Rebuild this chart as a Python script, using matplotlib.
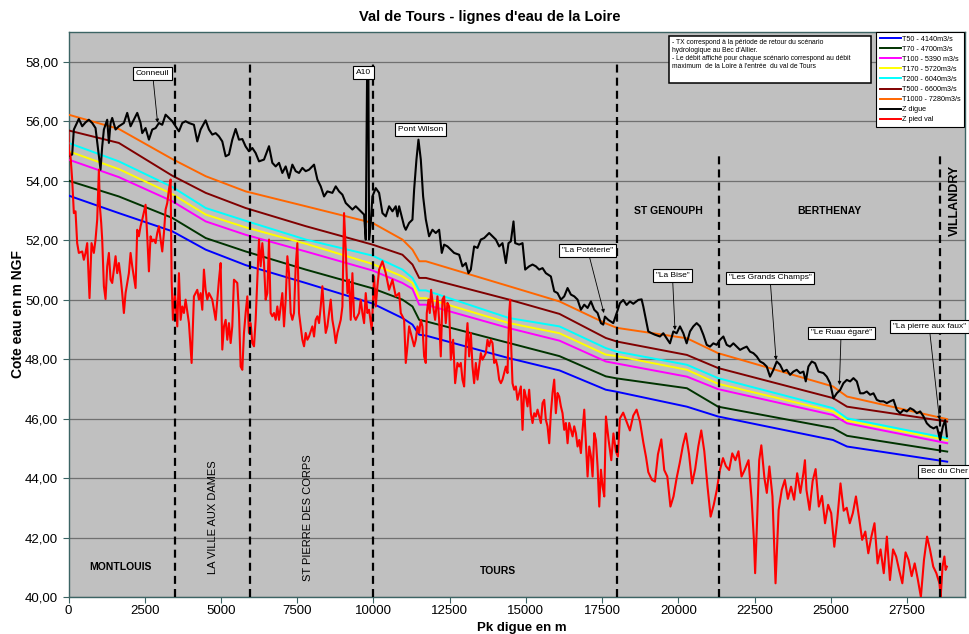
import numpy as np
import matplotlib
matplotlib.use("Agg")
import matplotlib.pyplot as plt
from matplotlib.patches import Rectangle
from matplotlib.lines import Line2D
from matplotlib.ticker import FuncFormatter

plt.rcParams['font.family'] = ['Liberation Sans', 'DejaVu Sans']

# points kilometriques des lignes d'eau (m)
pk = [0, 1650, 3400, 4500, 5810, 7780, 9970, 10950, 11280, 11500, 11720,
      14450, 16100, 17620, 17985, 20280, 21300, 25070, 25530, 28815]

t50 = [53.50, 52.91, 52.30, 51.68, 51.16, 50.56, 49.87, 49.38, 49.16, 48.82, 48.79,
       48.03, 47.62, 46.97, 46.90, 46.40, 46.07, 45.28, 45.06, 44.55]
t70 = [54.00, 53.47, 52.75, 52.07, 51.62, 51.01, 50.38, 50.00, 49.77, 49.32, 49.27,
       48.54, 48.10, 47.42, 47.35, 47.02, 46.40, 45.68, 45.42, 44.89]
t100 = [54.71, 54.12, 53.31, 52.63, 52.18, 51.62, 50.98, 50.56, 50.36, 49.83, 49.83,
        49.04, 48.62, 47.92, 47.85, 47.41, 46.99, 46.12, 45.84, 45.17]
t170 = [54.99, 54.39, 53.55, 52.86, 52.43, 51.88, 51.20, 50.78, 50.56, 50.05, 50.05,
        49.21, 48.87, 48.15, 48.10, 47.64, 47.17, 46.24, 45.93, 45.28]
t200 = [55.27, 54.65, 53.79, 53.08, 52.65, 52.02, 51.48, 51.01, 50.73, 50.31, 50.31,
        49.38, 49.10, 48.37, 48.25, 47.81, 47.36, 46.35, 46.01, 45.34]
t500 = [55.69, 55.27, 54.17, 53.59, 53.08, 52.47, 51.85, 51.51, 51.18, 50.73, 50.73,
        50.00, 49.52, 48.71, 48.59, 48.14, 47.70, 46.69, 46.40, 45.90]
t1000 = [56.22, 55.74, 54.73, 54.15, 53.64, 53.14, 52.58, 52.02, 51.68, 51.29, 51.29,
         50.45, 49.94, 49.20, 49.05, 48.70, 48.20, 47.08, 46.74, 45.98]

# Z digue : (pk, cote)
z_digue = [
    (0, 54.82), (120, 54.88), (175, 55.72), (339, 56.08), (449, 55.83), (558, 55.96), (667, 56.05),
    (777, 55.94), (886, 55.77), (996, 54.82), (1050, 54.37), (1105, 55.15), (1160, 55.72), (1269, 56.05),
    (1324, 55.27), (1379, 55.94), (1433, 56.11), (1543, 55.72), (1652, 55.83), (1816, 55.94), (1925, 56.28),
    (2035, 55.83), (2144, 56.05), (2254, 56.28), (2363, 55.94), (2418, 55.60), (2527, 55.77), (2637, 55.38),
    (2746, 55.72), (2856, 55.77), (2965, 55.94), (3074, 55.88), (3184, 56.22), (3293, 56.11), (3403, 56.00),
    (3512, 55.83), (3621, 55.66), (3731, 55.94), (3840, 56.00), (3949, 55.94), (4113, 55.88), (4223, 55.32),
    (4332, 55.72), (4496, 56.03), (4606, 55.72), (4715, 55.55), (4825, 55.60), (4934, 55.49), (5043, 55.32),
    (5153, 54.82), (5262, 54.88), (5371, 55.38), (5481, 55.74), (5590, 55.38), (5700, 55.40), (5809, 55.15),
    (5918, 54.99), (6028, 55.10), (6137, 54.93), (6247, 54.65), (6411, 54.71), (6575, 55.16), (6684, 54.60),
    (6794, 54.48), (6903, 54.60), (7012, 54.26), (7122, 54.48), (7231, 54.09), (7341, 54.54), (7450, 54.32),
    (7559, 54.26), (7669, 54.43), (7778, 54.32), (7888, 54.37), (8052, 54.54), (8161, 54.04), (8271, 53.81),
    (8380, 53.47), (8489, 53.64), (8653, 53.59), (8763, 53.81), (8872, 53.64), (8982, 53.53), (9091, 53.25),
    (9200, 53.14), (9310, 53.03), (9419, 53.14), (9583, 52.97), (9693, 52.86), (9747, 52.02), (9790, 57.40),
    (9835, 57.40), (9857, 52.02), (9912, 52.58), (9966, 53.47), (10076, 53.75), (10185, 53.59), (10295, 52.91),
    (10404, 52.80), (10513, 53.14), (10623, 52.97), (10732, 53.14), (10787, 52.80), (10842, 53.14),
    (10951, 52.69), (11006, 52.47), (11060, 52.35), (11170, 52.58), (11279, 52.69), (11334, 53.70),
    (11410, 54.71), (11476, 55.38), (11553, 54.71), (11629, 53.47), (11717, 52.70), (11825, 52.13),
    (11935, 52.35), (12044, 52.24), (12154, 52.35), (12241, 51.57), (12318, 51.85), (12427, 51.79),
    (12537, 51.68), (12646, 51.57), (12810, 51.51), (12919, 51.12), (13029, 51.23), (13116, 50.89),
    (13193, 51.01), (13302, 51.79), (13412, 51.74), (13521, 52.02), (13631, 52.07), (13795, 52.24),
    (13904, 52.13), (14013, 52.02), (14123, 51.79), (14232, 51.90), (14342, 51.23), (14429, 51.90),
    (14506, 51.96), (14593, 52.63), (14648, 51.90), (14779, 51.85), (14889, 51.90), (14976, 51.01),
    (15107, 51.12), (15217, 51.18), (15326, 51.12), (15436, 51.01), (15545, 51.06), (15654, 50.89),
    (15818, 50.78), (15928, 50.28), (16037, 50.22), (16147, 50.00), (16256, 50.11), (16366, 50.39),
    (16475, 50.17), (16585, 50.11), (16694, 50.00), (16803, 49.66), (16913, 49.83), (17022, 49.72),
    (17132, 49.94), (17241, 49.66), (17350, 49.55), (17460, 49.21), (17536, 49.16), (17591, 49.43),
    (17700, 49.32), (17864, 49.21), (17974, 49.54), (18083, 49.88), (18193, 49.99), (18302, 49.82),
    (18411, 49.94), (18521, 49.86), (18685, 49.99), (18794, 50.01), (18849, 49.77), (18937, 49.32),
    (19013, 48.93), (19123, 48.87), (19232, 48.82), (19396, 48.76), (19505, 48.87), (19615, 48.70),
    (19724, 48.53), (19834, 48.93), (19943, 48.87), (20052, 49.10), (20162, 48.87), (20271, 48.53),
    (20381, 48.93), (20490, 49.10), (20599, 49.21), (20709, 49.10), (20818, 48.82), (20928, 48.48),
    (21037, 48.42), (21146, 48.53), (21256, 48.48), (21365, 48.65), (21475, 48.76), (21584, 48.48),
    (21693, 48.42), (21803, 48.53), (21912, 48.42), (22022, 48.31), (22131, 48.37), (22240, 48.42),
    (22350, 48.25), (22459, 48.20), (22569, 48.09), (22678, 47.92), (22787, 47.86), (22897, 47.75),
    (23006, 47.41), (23116, 47.64), (23225, 47.92), (23334, 47.81), (23444, 47.58), (23553, 47.64),
    (23663, 47.47), (23772, 47.58), (23881, 47.64), (23991, 47.53), (24100, 47.58), (24177, 47.25),
    (24264, 47.75), (24374, 47.92), (24483, 47.86), (24593, 47.58), (24757, 47.53), (24866, 47.41),
    (24975, 47.19), (25085, 46.68), (25194, 46.85), (25304, 46.96), (25413, 47.19), (25522, 47.30),
    (25632, 47.25), (25741, 47.36), (25851, 47.25), (25960, 46.85), (26069, 46.85), (26179, 46.91),
    (26288, 46.80), (26398, 46.85), (26507, 46.63), (26616, 46.58), (26726, 46.58), (26835, 46.52),
    (26945, 46.58), (27054, 46.63), (27163, 46.29), (27273, 46.18), (27382, 46.29), (27492, 46.24),
    (27601, 46.35), (27710, 46.29), (27820, 46.18), (27929, 46.24), (28039, 46.07), (28148, 45.84),
    (28257, 45.73), (28367, 45.67), (28476, 45.73), (28586, 45.28), (28673, 45.73), (28750, 45.95),
    (28805, 45.40),
]

# Z pied val : (pk, cote)
z_pied = [
    (0, 55.61), (11, 55.04), (66, 54.82), (120, 54.04), (175, 52.91), (230, 52.97), (284, 51.90),
    (339, 51.57), (449, 51.62), (503, 51.34), (558, 51.57), (613, 51.90), (689, 50.05), (755, 51.90),
    (831, 51.57), (886, 52.02), (941, 52.69), (996, 54.37), (1028, 53.14), (1072, 52.58), (1105, 52.02),
    (1160, 50.45), (1214, 50.02), (1269, 51.12), (1324, 51.57), (1379, 50.67), (1433, 50.56), (1543, 51.46),
    (1597, 50.89), (1652, 51.23), (1707, 50.78), (1761, 50.22), (1816, 49.55), (1871, 50.22), (1980, 50.89),
    (2035, 51.57), (2090, 51.12), (2199, 50.39), (2254, 52.35), (2308, 52.13), (2363, 52.47), (2418, 52.69),
    (2527, 53.19), (2582, 52.13), (2637, 50.95), (2691, 52.13), (2746, 51.96), (2801, 52.02), (2856, 51.90),
    (2910, 52.24), (2965, 52.47), (3020, 52.02), (3074, 51.62), (3129, 52.24), (3184, 53.03), (3238, 53.25),
    (3293, 53.70), (3348, 54.04), (3381, 50.67), (3424, 49.32), (3490, 50.22), (3567, 49.10), (3621, 50.89),
    (3676, 49.32), (3731, 49.77), (3785, 49.55), (3840, 50.00), (3949, 49.21), (4037, 47.87), (4113, 50.11),
    (4223, 50.33), (4277, 50.00), (4332, 50.22), (4387, 49.66), (4441, 51.01), (4496, 50.33), (4551, 50.00),
    (4606, 50.22), (4715, 50.00), (4825, 49.32), (4934, 50.67), (4989, 51.23), (5043, 48.32), (5098, 49.10),
    (5153, 49.32), (5207, 48.65), (5262, 49.21), (5317, 48.54), (5371, 49.10), (5426, 50.67), (5535, 50.56),
    (5590, 49.55), (5645, 47.75), (5700, 47.64), (5754, 48.88), (5809, 49.55), (5864, 50.11), (5918, 48.88),
    (5973, 49.21), (6028, 48.54), (6083, 48.43), (6137, 49.32), (6192, 50.67), (6247, 52.02), (6301, 51.12),
    (6356, 51.90), (6411, 51.23), (6465, 50.00), (6520, 50.22), (6575, 52.02), (6630, 49.55), (6684, 49.44),
    (6739, 49.55), (6794, 49.32), (6848, 49.77), (6903, 49.32), (7012, 50.22), (7067, 49.10), (7122, 50.00),
    (7177, 51.46), (7231, 50.89), (7286, 49.55), (7341, 49.32), (7395, 49.55), (7450, 51.12), (7505, 51.90),
    (7559, 49.55), (7614, 49.10), (7669, 48.65), (7724, 48.43), (7778, 48.88), (7833, 48.65), (7888, 48.76),
    (7997, 49.10), (8052, 48.76), (8106, 49.32), (8161, 49.44), (8216, 49.21), (8271, 49.77), (8325, 50.45),
    (8380, 49.55), (8435, 48.88), (8489, 49.10), (8544, 49.55), (8599, 50.00), (8653, 49.32), (8708, 48.99),
    (8763, 48.54), (8818, 48.88), (8872, 49.10), (8927, 49.32), (8982, 49.77), (9036, 52.91), (9091, 51.68),
    (9146, 50.22), (9200, 50.67), (9255, 49.32), (9310, 50.89), (9365, 49.44), (9419, 49.32), (9528, 49.55),
    (9583, 50.00), (9638, 49.55), (9693, 49.21), (9747, 50.22), (9802, 49.55), (9857, 49.66), (9944, 48.99),
    (10021, 50.78), (10076, 49.77), (10130, 50.45), (10185, 51.01), (10295, 51.29), (10404, 50.89),
    (10513, 50.33), (10623, 50.67), (10732, 50.11), (10842, 50.22), (10896, 49.55), (10951, 49.44),
    (11006, 49.32), (11060, 47.87), (11115, 48.43), (11170, 49.10), (11224, 48.88), (11334, 48.43),
    (11389, 48.65), (11443, 49.10), (11498, 48.88), (11553, 49.32), (11607, 49.10), (11662, 48.09),
    (11716, 47.87), (11749, 49.55), (11804, 50.00), (11847, 49.55), (11891, 50.33), (11957, 49.77),
    (12022, 49.32), (12099, 50.11), (12154, 49.32), (12208, 48.09), (12263, 50.00), (12318, 50.11),
    (12372, 49.21), (12427, 49.89), (12482, 49.77), (12537, 47.98), (12613, 48.65), (12679, 47.19),
    (12755, 47.87), (12810, 47.75), (12865, 47.87), (12919, 47.31), (12974, 47.08), (13029, 48.43),
    (13084, 49.21), (13138, 48.09), (13193, 48.88), (13248, 47.75), (13302, 47.19), (13357, 47.87),
    (13412, 47.31), (13466, 47.75), (13521, 48.20), (13576, 47.98), (13631, 48.09), (13685, 48.20),
    (13740, 48.65), (13795, 48.43), (13849, 48.65), (13904, 48.54), (13959, 47.87), (14013, 47.98),
    (14068, 47.75), (14123, 47.31), (14178, 47.19), (14232, 47.31), (14287, 47.53), (14342, 47.75),
    (14396, 47.53), (14451, 49.55), (14484, 50.00), (14517, 48.43), (14560, 47.19), (14615, 46.97),
    (14670, 47.08), (14724, 46.63), (14779, 46.86), (14834, 47.08), (14889, 45.62), (14943, 46.97),
    (14998, 46.74), (15053, 46.41), (15107, 46.97), (15162, 46.18), (15217, 45.85), (15272, 46.18),
    (15326, 46.07), (15381, 46.30), (15436, 46.07), (15490, 45.85), (15545, 46.52), (15600, 46.63),
    (15654, 45.96), (15709, 45.74), (15764, 45.17), (15818, 46.18), (15873, 46.86), (15928, 47.31),
    (15982, 46.18), (16037, 46.86), (16092, 46.74), (16147, 46.41), (16201, 46.18), (16256, 45.62),
    (16311, 45.85), (16366, 45.17), (16420, 45.85), (16475, 45.62), (16530, 45.40), (16584, 45.74),
    (16639, 45.51), (16694, 45.06), (16749, 45.28), (16803, 44.84), (16858, 45.62), (16913, 46.30),
    (16967, 45.17), (17022, 44.05), (17077, 45.06), (17132, 44.73), (17186, 44.05), (17241, 45.51),
    (17296, 45.28), (17350, 44.39), (17405, 43.04), (17460, 44.28), (17514, 43.72), (17569, 43.38),
    (17624, 46.07), (17711, 45.28), (17800, 44.60), (17870, 45.50), (17950, 44.90), (18015, 44.72),
    (18080, 46.00), (18190, 46.20), (18300, 45.90), (18410, 45.60), (18520, 46.10), (18630, 46.30),
    (18740, 45.90), (18850, 45.20), (18940, 44.70), (19013, 44.20), (19130, 43.94), (19232, 43.88),
    (19330, 44.80), (19440, 45.30), (19536, 44.27), (19637, 44.05), (19739, 43.04), (19840, 43.38),
    (19943, 44.00), (20043, 44.50), (20150, 45.10), (20246, 45.50), (20350, 44.80), (20449, 43.82),
    (20550, 44.30), (20653, 45.06), (20750, 45.60), (20850, 44.90), (20956, 43.71), (21057, 42.70),
    (21160, 43.10), (21260, 43.60), (21362, 44.27), (21463, 44.67), (21560, 44.40), (21665, 44.27),
    (21767, 44.83), (21870, 44.60), (21970, 44.90), (22071, 44.05), (22172, 44.27), (22300, 44.60),
    (22400, 43.30), (22477, 41.92), (22517, 40.80), (22578, 42.48), (22650, 44.60), (22720, 45.10),
    (22822, 44.00), (22900, 43.50), (22984, 44.39), (23085, 43.38), (23186, 40.46), (23288, 42.93),
    (23390, 43.60), (23491, 43.94), (23590, 43.30), (23694, 43.71), (23795, 43.27), (23896, 44.16),
    (24000, 43.50), (24099, 44.16), (24150, 44.60), (24200, 43.60), (24301, 42.93), (24403, 43.90),
    (24500, 44.30), (24606, 43.04), (24710, 43.40), (24809, 42.48), (24910, 43.10), (25011, 42.82),
    (25113, 41.69), (25210, 42.60), (25316, 43.82), (25420, 42.90), (25520, 43.00), (25620, 42.48),
    (25721, 42.82), (25823, 43.38), (25920, 42.70), (26026, 41.92), (26130, 42.20), (26228, 41.47),
    (26329, 42.03), (26431, 42.48), (26532, 41.13), (26630, 41.60), (26735, 40.80), (26837, 42.03),
    (26938, 40.57), (27040, 41.60), (27141, 41.36), (27240, 40.90), (27344, 40.46), (27450, 41.50),
    (27547, 41.25), (27650, 40.70), (27749, 41.13), (27850, 40.60), (27952, 40.00), (28054, 41.25),
    (28155, 42.03), (28250, 41.60), (28358, 41.02), (28460, 40.80), (28561, 40.46), (28602, 40.00),
    (28662, 41.02), (28723, 41.36), (28764, 40.91), (28804, 41.02),
]

noms = ["T50 - 4140m3/s", "T70 - 4700m3/s", "T100 - 5390 m3/s", "T170 - 5720m3/s",
        "T200 - 6040m3/s", "T500 - 6600m3/s", "T1000 - 7280m3/s", "Z digue", "Z pied val"]
couleurs = ["#0000FF", "#003300", "#FF00FF", "#FFFF00", "#00FFFF", "#800000", "#FF6600",
            "#000000", "#FF0000"]

# limites des communes (pk), et cote du haut de chaque trait
limites = [3500, 5950, 10000, 18000, 21330, 28590]
haut_limites = [58, 58, 58, 58, 54.9, 54.9]

fig = plt.figure(figsize=(9.69, 6.34), dpi=100)
ax = fig.add_axes([0.0707, 0.0584, 0.9252, 0.8911])
ax.set_facecolor("#C0C0C0")

for serie, c in zip([t50, t70, t100, t170, t200, t500, t1000], couleurs[:7]):
    ax.plot(pk, serie, color=c, lw=1.4, zorder=3)

zd = np.array(z_digue)
zp = np.array(z_pied)
ax.plot(zd[:, 0], zd[:, 1], color="black", lw=1.5, zorder=4)
ax.plot(zp[:, 0], zp[:, 1], color="#FF0000", lw=1.5, zorder=5)

for xl, yh in zip(limites, haut_limites):
    ax.plot([xl, xl], [40, yh], color="black", lw=1.6, ls=(0, (3.6, 2.3)), zorder=6)

ax.set_xlim(0, 29400)
ax.set_ylim(40, 59)
ax.set_yticks(np.arange(40, 59, 2))
ax.set_xticks(np.arange(0, 28000, 2500))
ax.yaxis.set_major_formatter(FuncFormatter(lambda v, p: f"{v:.2f}".replace(".", ",")))
ax.grid(axis="y", color="#707070", lw=0.9, zorder=1)
ax.grid(axis="x", visible=False)
ax.tick_params(labelsize=9.5, length=4, width=0.8, color="#3c6464")
ax.tick_params(axis="x", pad=2)
for s in ax.spines.values():
    s.set_color("#3c6464")
    s.set_linewidth(1.0)

fig.text(0.505, 0.973, "Val de Tours - lignes d'eau de la Loire", ha="center", va="center",
         fontsize=10.5, fontweight="bold")
fig.text(0.538, 0.0, "Pk digue en m", ha="center", va="bottom", fontsize=9.5, fontweight="bold")
fig.text(0.019, 0.505, "Cote eau en m NGF", ha="center", va="center", rotation=90,
         fontsize=10, fontweight="bold")

# noms des communes
ax.text(1707, 41.0, "MONTLOUIS", ha="center", va="center", fontsize=7.5, fontweight="bold")
ax.text(4742, 42.69, "LA VILLE AUX DAMES", ha="center", va="center", rotation=90, fontsize=8)
ax.text(7860, 42.66, "ST PIERRE DES CORPS", ha="center", va="center", rotation=90, fontsize=8)
ax.text(14080, 40.87, "TOURS", ha="center", va="center", fontsize=7.5, fontweight="bold")
ax.text(19659, 52.99, "ST GENOUPH", ha="center", va="center", fontsize=7.5, fontweight="bold")
ax.text(24943, 52.99, "BERTHENAY", ha="center", va="center", fontsize=7.5, fontweight="bold")
ax.text(29078, 53.35, "VILLANDRY", ha="center", va="center", rotation=90, fontsize=9,
        fontweight="bold")

# etiquettes des points remarquables
boite = dict(boxstyle="square,pad=0.35", fc="white", ec="black", lw=0.8)
fleche = dict(arrowstyle="-|>", lw=0.6, color="black", mutation_scale=5, shrinkA=0, shrinkB=0)
reperes = [
    ("Conneuil", 2757, 57.60, 2921, 55.95),
    ("A10", 9680, 57.63, None, None),
    ("Pont Wilson", 11552, 55.73, None, None),
    ('"La Potéterie"', 17033, 51.64, 17558, 49.55),
    ('"La Bise"', 19806, 50.80, 19889, 48.98),
    ('"Les Grands Champs"', 23006, 50.73, 23203, 47.97),
    ('"Le Ruau égaré"', 25336, 48.88, 25281, 47.13),
    ('"La pierre aux faux"', 28224, 49.10, 28563, 45.96),
    ("Bec du Cher", 28716, 44.22, None, None),
]
for txt, xt, yt, xp, yp in reperes:
    if xp is None:
        ax.text(xt, yt, txt, ha="center", va="center", fontsize=6, bbox=boite, zorder=8)
    else:
        ax.annotate(txt, xy=(xp, yp), xytext=(xt, yt), ha="center", va="center", fontsize=6,
                    bbox=boite, arrowprops=fleche, zorder=8)

# cadre de la note
fig.patches.append(Rectangle((669 / 969, 1 - 83 / 634), 202 / 969, 47 / 634,
                             transform=fig.transFigure, fc="white", ec="black", lw=1.1, zorder=9))
note = ("- TX correspond à la période de retour du scénario\n"
        "hydrologique au Bec d'Allier.\n"
        "- Le débit affiché pour chaque scénario correspond au débit\n"
        "maximum  de la Loire à l'entrée  du val de Tours")
fig.text(672 / 969, 1 - 39 / 634, note, ha="left", va="top", fontsize=4.9, linespacing=1.2,
         zorder=10)

poignees = [Line2D([], [], color=c, lw=1.4) for c in couleurs]
leg = ax.legend(poignees, noms, loc="upper left", bbox_to_anchor=(876 / 969, 1 - 32 / 634),
                bbox_transform=fig.transFigure, fontsize=5.2, frameon=True, fancybox=False,
                edgecolor="black", framealpha=1, handlelength=3.0, handletextpad=0.1,
                labelspacing=0.42, borderpad=0.5, borderaxespad=0)
leg.get_frame().set_linewidth(0.8)
leg.set_zorder(10)

fig.savefig("out.png", dpi=100)
